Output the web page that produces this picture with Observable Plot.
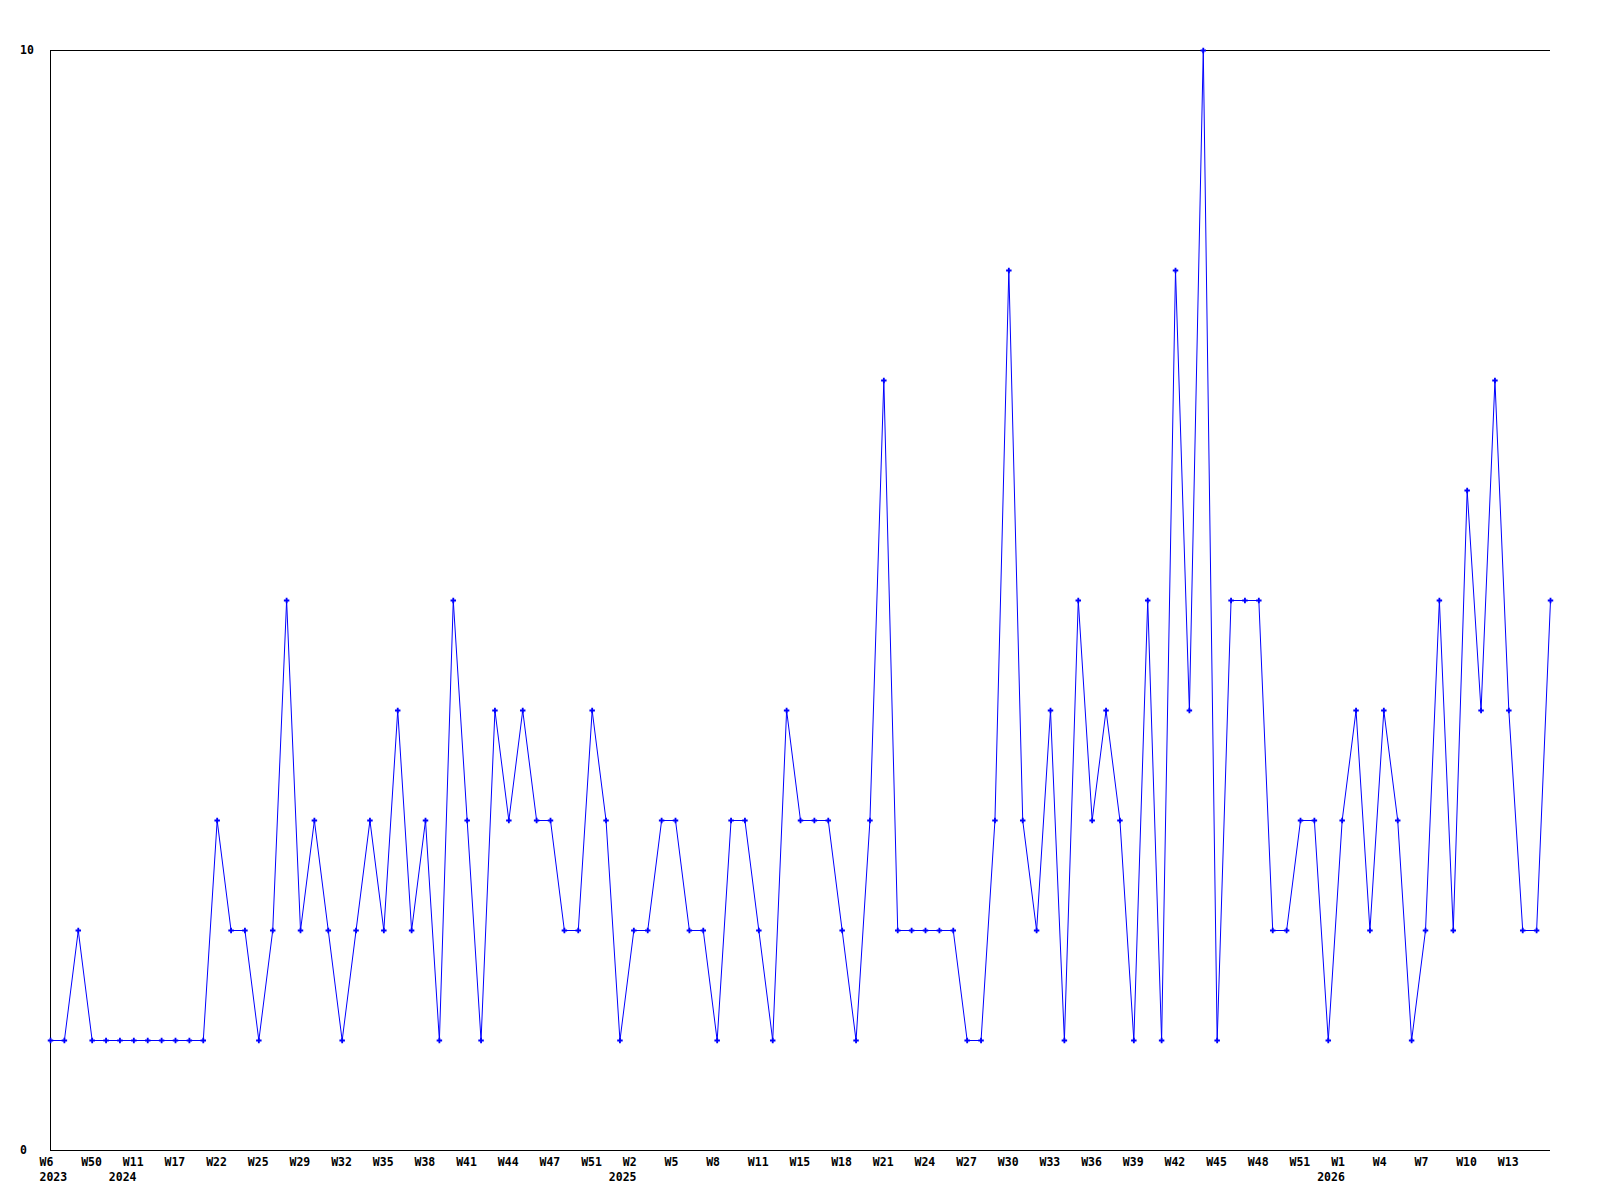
<!DOCTYPE html>
<html>
<head>
<meta charset="utf-8">
<script src="https://cdn.jsdelivr.net/npm/d3@7"></script>
<script src="https://cdn.jsdelivr.net/npm/@observablehq/plot@0.6"></script>
<style>
  html, body { margin: 0; padding: 0; background: #ffffff; }
  #chart svg { display: block; }
</style>
</head>
<body>
<div id="chart"></div>
<script>
// Weekly values, one per data point (categorical, equally spaced)
const values = [
  1,1,2,1,1,1,1,1,1,1,
  1,1,3,2,2,1,2,5,2,3,
  2,1,2,3,2,4,2,3,1,5,
  3,1,4,3,4,3,3,2,2,4,
  3,1,2,2,3,3,2,2,1,3,
  3,2,1,4,3,3,3,2,1,3,
  7,2,2,2,2,2,1,1,3,8,
  3,2,4,1,5,3,4,3,1,5,
  1,8,4,10,1,5,5,5,2,2,
  3,3,1,3,4,2,4,3,1,2,
  5,2,6,4,7,4,2,2,5
];

// Tick labels, one for every third point
const tickWeeks = ["W6","W50","W11","W17","W22","W25","W29","W32","W35","W38","W41","W44",
  "W47","W51","W2","W5","W8","W11","W15","W18","W21","W24","W27","W30","W33",
  "W36","W39","W42","W45","W48","W51","W1","W4","W7","W10","W13"];
const tickYears = ["2023","","2024","","","","","","","","","",
  "","","2025","","","","","","","","","","",
  "","","","","","","2026","","","",""];
const tickStep = 3;
const yTicks = [0, 10];

const points = values.map((v, i) => ({i, v}));
const ticks = tickWeeks.map((w, k) => ({pos: k * tickStep, week: w, year: tickYears[k], k}));
const firstYear = ticks.filter(d => d.year && d.k === 0);
const otherYears = ticks.filter(d => d.year && d.k !== 0);

const font = "'DejaVu Sans Mono', 'Liberation Mono', monospace";
const blue = "#0000ff";

const chart = Plot.plot({
  width: 1600,
  height: 1200,
  marginLeft: 50,
  marginRight: 50,
  marginTop: 50,
  marginBottom: 50,
  style: {background: "#ffffff", fontFamily: font, fontSize: "11.5px", fontWeight: "bold", color: "#000"},
  x: {type: "linear", domain: [0, values.length - 1], axis: null},
  y: {type: "linear", domain: [0, 10], axis: null},
  marks: [
    Plot.ruleY(yTicks, {stroke: "#000", strokeWidth: 1}),
    Plot.ruleX([0], {stroke: "#000", strokeWidth: 1}),
    Plot.line(points, {x: "i", y: "v", stroke: blue, strokeWidth: 1, curve: "linear"}),
    Plot.dot(points, {x: "i", y: "v", symbol: "cross", r: 2.3, fill: blue, stroke: "none"}),
    Plot.text(yTicks, {y: d => d, text: d => String(d), frameAnchor: "left", textAnchor: "start", dx: -30.5, fill: "#000", fontWeight: "bold"}),
    Plot.text(ticks, {x: "pos", text: "week", frameAnchor: "bottom", textAnchor: "start", dx: -11, dy: 15, fill: "#000", fontWeight: "bold"}),
    Plot.text(firstYear, {x: "pos", text: "year", frameAnchor: "bottom", textAnchor: "start", dx: -11, dy: 30, fill: "#000", fontWeight: "bold"}),
    Plot.text(otherYears, {x: "pos", text: "year", frameAnchor: "bottom", textAnchor: "start", dx: -25, dy: 30, fill: "#000", fontWeight: "bold"})
  ]
});
document.getElementById("chart").appendChild(chart);
</script>
</body>
</html>
